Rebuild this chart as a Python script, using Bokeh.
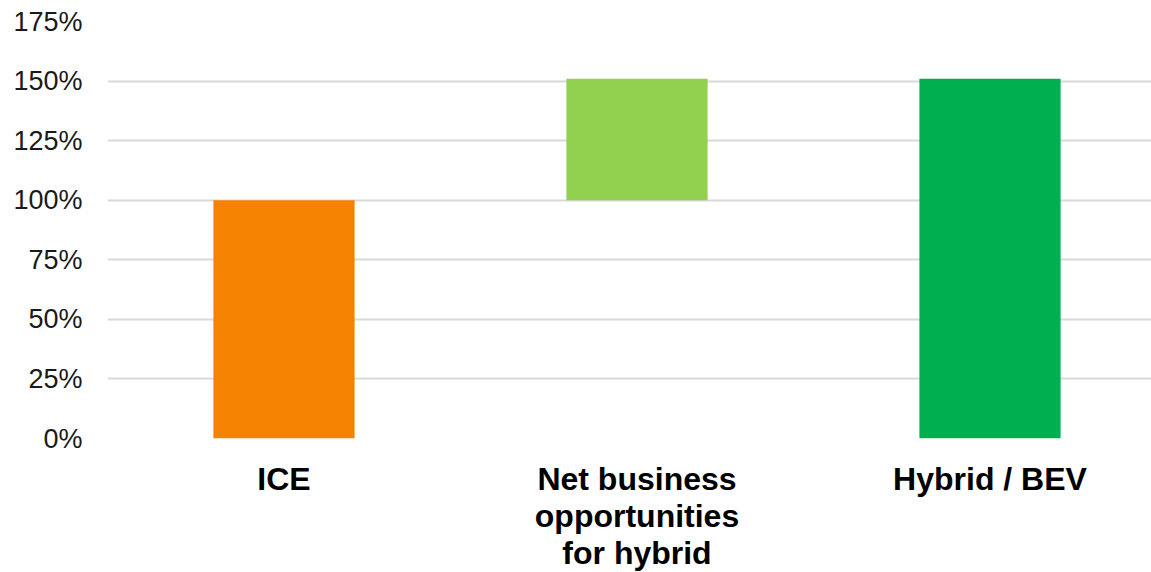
from bokeh.plotting import figure
from bokeh.models import Range1d, FixedTicker, ColumnDataSource
from bokeh.embed import file_html
from bokeh.resources import INLINE

categories = ["ICE", "Net business\nopportunities\nfor hybrid", "Hybrid / BEV"]
bar_bottom = [0, 100, 0]
bar_top = [100, 151, 151]
bar_colors = ["#F58200", "#92D050", "#00B050"]
y_ticks = [0, 25, 50, 75, 100, 125, 150, 175]
y_labels = ["0%", "25%", "50%", "75%", "100%", "125%", "150%", "175%"]

x_pos = list(range(len(categories)))

src = ColumnDataSource(dict(x=x_pos, bottom=bar_bottom, top=bar_top, color=bar_colors))

p = figure(frame_width=1044, frame_height=417, output_backend="svg", toolbar_location=None,
           x_range=Range1d(-0.5, -0.5 + 1044 / 353), y_range=Range1d(0, 175),
           min_border_left=107, min_border_right=0, min_border_top=21, min_border_bottom=0)
p.outline_line_color = None
p.background_fill_color = "white"
p.border_fill_color = "white"

p.vbar(x="x", bottom="bottom", top="top", width=0.4, fill_color="color", line_color=None, source=src)

p.xgrid.grid_line_color = None
p.ygrid.grid_line_color = "#d9d9d9"
p.ygrid.grid_line_width = 2
p.ygrid.ticker = FixedTicker(ticks=y_ticks)

p.yaxis.ticker = FixedTicker(ticks=y_ticks)
p.yaxis.major_label_overrides = {t: l for t, l in zip(y_ticks, y_labels)}
p.yaxis.axis_line_color = None
p.yaxis.major_tick_line_color = None
p.yaxis.minor_tick_line_color = None
p.yaxis.major_tick_out = 0
p.yaxis.major_tick_in = 0
p.yaxis.major_label_text_font = "Liberation Sans"
p.yaxis.major_label_text_font_size = "27px"
p.yaxis.major_label_text_color = "#1a1a1a"
p.yaxis.major_label_standoff = 25

p.xaxis.ticker = FixedTicker(ticks=x_pos)
p.xaxis.major_label_overrides = {i: c for i, c in zip(x_pos, categories)}
p.xaxis.axis_line_color = None
p.xaxis.major_tick_line_color = None
p.xaxis.minor_tick_line_color = None
p.xaxis.major_tick_out = 0
p.xaxis.major_tick_in = 0
p.xaxis.major_label_text_font = "Liberation Sans"
p.xaxis.major_label_text_font_style = "bold"
p.xaxis.major_label_text_font_size = "32px"
p.xaxis.major_label_text_color = "#000000"
p.xaxis.major_label_text_line_height = 1.04
p.xaxis.major_label_standoff = 22

open("out.html", "w").write(file_html(p, INLINE))
